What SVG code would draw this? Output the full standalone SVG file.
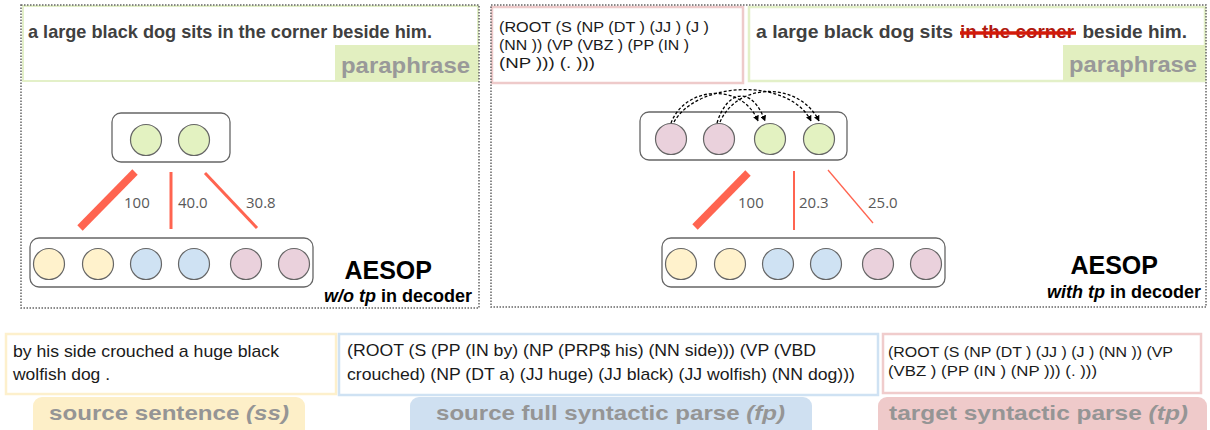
<svg xmlns="http://www.w3.org/2000/svg" width="1210" height="430" viewBox="0 0 1210 430">
<defs>
<style>
.panel{fill:none;stroke:#666;stroke-width:1.5;stroke-dasharray:1.5 1.5}
.sent{font-family:"Liberation Sans",Arial,sans-serif;font-weight:bold;fill:#404040}
.para{font-family:"Liberation Sans",Arial,sans-serif;font-weight:bold;font-size:22px;fill:#999}
.grp{fill:#fff;stroke:#666;stroke-width:1.3}
.nd{stroke:#666;stroke-width:1.2}
.g{fill:#e3f2c1}.y{fill:#fff2cc}.b{fill:#cfe2f3}.p{fill:#ead1dc}
.w{stroke:#ff6450;fill:none}
.num{font-family:"Open Sans",sans-serif;font-size:15px;fill:#595959}
.ae{font-family:"Liberation Sans",Arial,sans-serif;font-weight:bold;fill:#000}
.txt{font-family:"Liberation Sans",Arial,sans-serif;font-size:17px;fill:#1a1a1a}
.tps{font-family:"Liberation Sans",Arial,sans-serif;font-size:15px;fill:#1a1a1a}
.lab{font-family:"Liberation Sans",Arial,sans-serif;font-weight:bold;font-size:21px;fill:#959595}
.arc{fill:none;stroke:#000;stroke-width:1.3;stroke-dasharray:3 2}
</style>
<marker id="ah" viewBox="0 0 10 10" refX="9" refY="5" markerWidth="6" markerHeight="6" orient="auto" markerUnits="userSpaceOnUse">
<path d="M0,0 L10,5 L0,10 z" fill="#000"/>
</marker>
</defs>
<rect width="1210" height="430" fill="#fff"/>

<g id="left-panel">
<rect x="23" y="6" width="455" height="75" fill="#fff" stroke="#e3f0c8" stroke-width="2"/>
<rect x="335" y="45" width="144" height="36" fill="#e2efc0"/>
<text class="sent" x="28" y="38" font-size="18.5" textLength="404" lengthAdjust="spacingAndGlyphs">a large black dog sits in the corner beside him.</text>
<text class="para" x="341" y="73" textLength="129" lengthAdjust="spacingAndGlyphs">paraphrase</text>
<rect class="panel" x="21" y="5" width="458" height="303"/>
</g>

<g id="left-top-nodes">
<rect class="grp" x="112" y="113" width="118" height="49" rx="9"/>
<circle class="nd g" cx="146" cy="140" r="15.5"/>
<circle class="nd g" cx="194" cy="140" r="15.5"/>
</g>
<g id="left-bottom-nodes">
<rect class="grp" x="30" y="238" width="283" height="49" rx="9"/>
<circle class="nd y" cx="49" cy="264" r="15.5"/>
<circle class="nd y" cx="98" cy="264" r="15.5"/>
<circle class="nd b" cx="146" cy="264" r="15.5"/>
<circle class="nd b" cx="194" cy="264" r="15.5"/>
<circle class="nd p" cx="246" cy="264" r="15.5"/>
<circle class="nd p" cx="294" cy="264" r="15.5"/>
</g>
<g id="left-title">
<text class="ae" x="432" y="279" font-size="25" text-anchor="end">AESOP</text>
<text class="ae" x="472" y="302" font-size="18" text-anchor="end"><tspan font-style="italic">w/o tp</tspan> in decoder</text>
</g>

<g id="right-panel">
<rect x="492" y="7" width="251" height="76" fill="#fff" stroke="#eecaca" stroke-width="2.5"/>
<text class="tps" x="499" y="32" textLength="210" lengthAdjust="spacingAndGlyphs">(ROOT (S (NP (DT ) (JJ ) (J )</text>
<text class="tps" x="499" y="50" textLength="190" lengthAdjust="spacingAndGlyphs">(NN )) (VP (VBZ ) (PP (IN )</text>
<text class="tps" x="499" y="68" textLength="96" lengthAdjust="spacingAndGlyphs">(NP ))) (. )))</text>
<rect x="749" y="7" width="456" height="74" fill="#fff" stroke="#e3f0c8" stroke-width="2.5"/>
<rect x="1063" y="45" width="142" height="36" fill="#e2efc0"/>
<text class="sent" x="756" y="38" font-size="19" textLength="197" lengthAdjust="spacingAndGlyphs">a large black dog sits</text>
<text class="sent" x="960" y="38" font-size="19" textLength="114" lengthAdjust="spacingAndGlyphs" style="fill:#b01a10">in the corner</text>
<line x1="960" y1="33" x2="1076" y2="33" stroke="#d41a0a" stroke-width="3.5"/>
<text class="sent" x="1187" y="38" font-size="19" text-anchor="end">beside him.</text>
<text class="para" x="1069" y="72" textLength="128" lengthAdjust="spacingAndGlyphs">paraphrase</text>
<rect class="panel" x="491" y="5" width="715" height="302"/>
</g>

<g id="right-top-nodes">
<rect class="grp" x="640" y="112" width="207" height="48" rx="9"/>
<circle class="nd p" cx="671" cy="139" r="15.5"/>
<circle class="nd p" cx="719" cy="139" r="15.5"/>
<circle class="nd g" cx="770" cy="139" r="15.5"/>
<circle class="nd g" cx="819" cy="139" r="15.5"/>
</g>
<g id="right-bottom-nodes">
<rect class="grp" x="662" y="238" width="283" height="49" rx="9"/>
<circle class="nd y" cx="681" cy="264" r="15.5"/>
<circle class="nd y" cx="730" cy="264" r="15.5"/>
<circle class="nd b" cx="778" cy="264" r="15.5"/>
<circle class="nd b" cx="826" cy="264" r="15.5"/>
<circle class="nd p" cx="878" cy="264" r="15.5"/>
<circle class="nd p" cx="926" cy="264" r="15.5"/>
</g>
<g id="right-title">
<text class="ae" x="1158" y="274" font-size="25" text-anchor="end">AESOP</text>
<text class="ae" x="1201" y="298" font-size="18" text-anchor="end"><tspan font-style="italic">with tp</tspan> in decoder</text>
</g>

<g id="connectors">
<line class="w" x1="135" y1="172" x2="80" y2="228" stroke-width="7.5"/>
<line class="w" x1="171" y1="172" x2="171" y2="229" stroke-width="3"/>
<line class="w" x1="205" y1="173" x2="257" y2="228" stroke-width="3"/>
<text class="num" x="124" y="208">100</text>
<text class="num" x="178" y="208">40.0</text>
<text class="num" x="246" y="208">30.8</text>
<line class="w" x1="748" y1="173" x2="695" y2="227" stroke-width="7.5"/>
<line class="w" x1="794" y1="171" x2="794" y2="230" stroke-width="2"/>
<line class="w" x1="828" y1="170" x2="873" y2="223" stroke-width="1.3"/>
<text class="num" x="738" y="208">100</text>
<text class="num" x="799" y="208">20.3</text>
<text class="num" x="868" y="208">25.0</text>
<path class="arc" d="M671,123 C685,86 742,82 758,121" marker-end="url(#ah)"/>
<path class="arc" d="M674,122 C698,80 790,78 811,121" marker-end="url(#ah)"/>
<path class="arc" d="M717,123 C727,90 752,85 765,121" marker-end="url(#ah)"/>
<path class="arc" d="M720,122 C738,81 800,82 819,121" marker-end="url(#ah)"/>
</g>

<g id="source-sentence">
<rect x="33" y="397" width="272" height="45" rx="9" fill="#fdefc8"/>
<rect x="6" y="334" width="330" height="60" fill="#fff" stroke="#fdf0cc" stroke-width="2.5"/>
<text class="txt" x="13" y="357" textLength="266" lengthAdjust="spacingAndGlyphs">by his side crouched a huge black</text>
<text class="txt" x="13" y="380" textLength="97" lengthAdjust="spacingAndGlyphs">wolfish dog .</text>
<text class="lab" x="49" y="420" textLength="240" lengthAdjust="spacingAndGlyphs">source sentence <tspan font-style="italic">(ss)</tspan></text>
</g>
<g id="source-parse">
<rect x="410" y="397" width="402" height="45" rx="9" fill="#cfe0f1"/>
<rect x="339" y="334" width="539" height="61" fill="#fff" stroke="#cfe2f3" stroke-width="2.5"/>
<text class="txt" x="347" y="356" textLength="469" lengthAdjust="spacingAndGlyphs">(ROOT (S (PP (IN by) (NP (PRP$ his) (NN side))) (VP (VBD</text>
<text class="txt" x="347" y="380" textLength="508" lengthAdjust="spacingAndGlyphs">crouched) (NP (DT a) (JJ huge) (JJ black) (JJ wolfish) (NN dog)))</text>
<text class="lab" x="436" y="420" textLength="349" lengthAdjust="spacingAndGlyphs">source full syntactic parse <tspan font-style="italic">(fp)</tspan></text>
</g>
<g id="target-parse">
<rect x="878" y="397" width="329" height="45" rx="9" fill="#efcaca"/>
<rect x="883" y="334" width="318" height="59" fill="#fff" stroke="#f0cccc" stroke-width="2.5"/>
<text class="tps" x="888" y="357" textLength="285" lengthAdjust="spacingAndGlyphs">(ROOT (S (NP (DT ) (JJ ) (J ) (NN )) (VP</text>
<text class="tps" x="888" y="376" textLength="209" lengthAdjust="spacingAndGlyphs">(VBZ ) (PP (IN ) (NP ))) (. )))</text>
<text class="lab" x="889" y="420" textLength="299" lengthAdjust="spacingAndGlyphs">target syntactic parse <tspan font-style="italic">(tp)</tspan></text>
</g>
</svg>
